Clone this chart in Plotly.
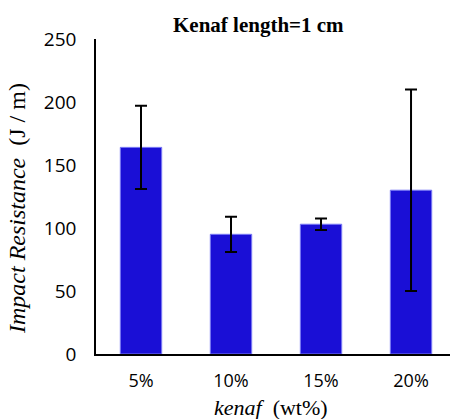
import plotly.graph_objects as go

categories = ["5%", "10%", "15%", "20%"]
values = [164, 95, 103, 130]
errors = [33, 14, 4.6, 80]
y_ticks = [0, 50, 100, 150, 200, 250]

SERIF = "Times New Roman, Liberation Serif, DejaVu Serif, serif"
SANS = "Open Sans, Liberation Sans, sans-serif"

W, H = 450, 419
L, R, T, B = 96, 0, 39, 65
pw, ph = W - L - R, H - T - B

fig = go.Figure()
fig.add_trace(go.Bar(
    x=categories, y=values,
    marker=dict(color="#1a0fd6", line=dict(color="#7b7bf5", width=1)),
    error_y=dict(type="data", array=errors, visible=True, color="black", thickness=2, width=6),
    width=0.46,
))

fig.update_layout(
    width=W, height=H,
    margin=dict(l=L, r=R, t=T, b=B, autoexpand=False),
    plot_bgcolor="white", paper_bgcolor="white",
    showlegend=False,
    xaxis=dict(
        range=[-0.5, 3.433], showline=True, linecolor="black", linewidth=1.5, ticks="",
        tickfont=dict(family=SANS, size=18, color="black"), automargin=False,
        ticklabelstandoff=10,
    ),
    yaxis=dict(
        range=[0, 250], tickvals=y_ticks, showline=True, linecolor="black", linewidth=1.5, ticks="",
        showgrid=False, zeroline=False, automargin=False,
        tickfont=dict(family=SANS, size=19, color="black"), ticklabelstandoff=14,
    ),
    annotations=[
        dict(text="<b>Kenaf length=1 cm</b>", xref="paper", yref="paper",
             x=(258 - L) / pw, y=(H - 25 - B) / ph, xanchor="center", yanchor="middle",
             showarrow=False, font=dict(family=SERIF, size=21, color="black")),
        dict(text="<i>kenaf</i>  (wt%)", xref="paper", yref="paper",
             x=(271 - L) / pw, y=(H - 407 - B) / ph, xanchor="center", yanchor="middle",
             showarrow=False, font=dict(family=SERIF, size=22, color="black")),
        dict(text="<i>Impact Resistance</i>  (J / m)", xref="paper", yref="paper",
             x=(17 - L) / pw, y=(H - 209 - B) / ph, xanchor="center", yanchor="middle",
             textangle=-90, showarrow=False, font=dict(family=SERIF, size=24, color="black")),
    ],
)

fig.write_html("out.html", config={"displayModeBar": False},
               post_script="document.body.style.margin='0';document.body.style.overflow='hidden';")
